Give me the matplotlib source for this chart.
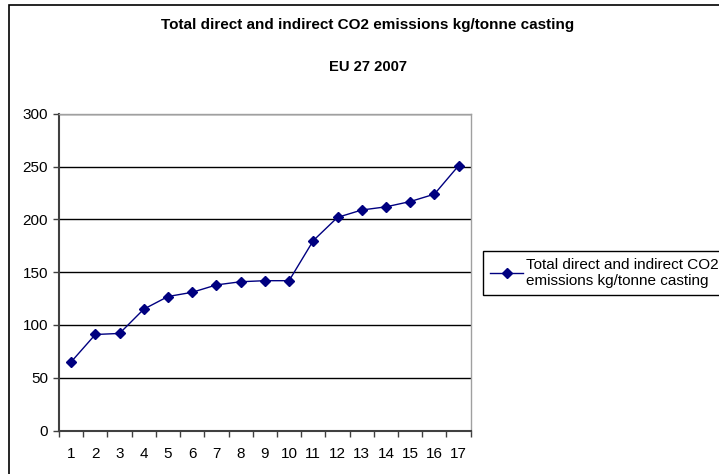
import matplotlib
matplotlib.use("Agg")
import matplotlib.pyplot as plt
from matplotlib.patches import Rectangle

plt.rcParams['font.family'] = ['Liberation Sans', 'DejaVu Sans']

categories = [str(i) for i in range(1, 18)]
emissions = [65, 91, 92, 115, 127, 131, 138, 141, 142, 142, 180, 202, 209, 212, 217, 224, 251]
y_ticks = [0, 50, 100, 150, 200, 250, 300]

title = "Total direct and indirect CO2 emissions kg/tonne casting"
subtitle = "EU 27 2007"
legend_label = "Total direct and indirect CO2\nemissions kg/tonne casting"


def plot_chart():
    fig = plt.figure(figsize=(7.19, 4.74), dpi=100)
    W, H = 719, 474

    # outer chart border (runs off right/bottom edges like the original)
    fig.patches.append(Rectangle((9 / W, -0.1), 1.2, 1 - 5 / H + 0.1, transform=fig.transFigure,
                                 fill=False, edgecolor='black', linewidth=1.2))

    ax = fig.add_axes([59 / W, 1 - 430.5 / H, (470.7 - 59) / W, (430.5 - 114) / H])
    x = list(range(len(categories)))
    ax.plot(x, emissions, color='#000080', marker='D', markersize=5, linewidth=1,
            label=legend_label)

    ax.set_xlim(-0.5, len(categories) - 0.5)
    ax.set_ylim(0, 300)
    ax.set_yticks(y_ticks)
    ax.set_yticklabels([str(v) for v in y_ticks], fontsize=11)
    ax.set_xticks([i - 0.5 for i in range(len(categories) + 1)])
    ax.set_xticklabels([])
    ax.set_xticks(x, minor=True)
    ax.set_xticklabels(categories, minor=True, fontsize=11)
    ax.tick_params(axis='x', which='major', length=4, width=1, color='#404040', direction='out')
    ax.tick_params(axis='x', which='minor', length=0, pad=12)
    ax.tick_params(axis='y', length=4, width=1, color='#404040', pad=4)

    ax.grid(axis='y', color='black', linewidth=1)
    ax.set_axisbelow(True)
    for side in ['left', 'bottom']:
        ax.spines[side].set_color('#404040')
        ax.spines[side].set_linewidth(1.5)
    for side in ['right', 'top']:
        ax.spines[side].set_color('#a0a0a0')
        ax.spines[side].set_linewidth(1)

    fig.text(368 / W, 1 - 25 / H, title, ha='center', va='center', fontsize=11, fontweight='bold')
    fig.text(368 / W, 1 - 67 / H, subtitle, ha='center', va='center', fontsize=10.6, fontweight='bold')

    leg = fig.legend(loc='upper left', bbox_to_anchor=(483 / W, 1 - 251 / H), fontsize=11,
                     frameon=True, fancybox=False, edgecolor='black', framealpha=1,
                     handlelength=2.2, handletextpad=0.15, borderpad=0.45, labelspacing=0.1,
                     borderaxespad=0)
    leg.get_frame().set_linewidth(1)

    fig.savefig("out.png", dpi=100)


if __name__ == "__main__":
    plot_chart()
